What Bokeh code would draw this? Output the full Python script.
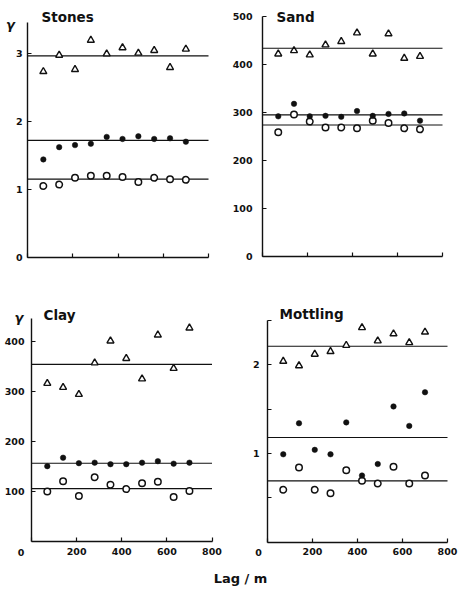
from bokeh.plotting import figure
from bokeh.layouts import column, row
from bokeh.models import (Label, FixedTicker, CustomJSTickFormatter,
                          ColumnDataSource, LinearAxis, Range1d)
from bokeh.embed import file_html
from bokeh.resources import INLINE

# ---------------- data ----------------
lags = [70, 140, 210, 280, 350, 420, 490, 560, 630, 700]
sill_x = [0, 800]

stones_tri = [2.73, 2.97, 2.76, 3.19, 2.99, 3.08, 3.00, 3.04, 2.79, 3.06]
stones_dot = [1.44, 1.62, 1.65, 1.67, 1.77, 1.74, 1.78, 1.74, 1.75, 1.70]
stones_open = [1.05, 1.07, 1.17, 1.20, 1.20, 1.18, 1.11, 1.17, 1.15, 1.14]
stones_sills = [2.96, 1.72, 1.15]

sand_tri = [422, 429, 420, 441, 448, 466, 422, 464, 413, 417]
sand_dot = [292, 318, 292, 293, 291, 303, 293, 297, 298, 283]
sand_open = [259, 296, 281, 269, 269, 267, 283, 278, 267, 265]
sand_sills = [434, 295, 274]

clay_tri = [317, 309, 295, 358, 402, 367, 326, 414, 347, 428]
clay_dot = [151, 168, 157, 158, 155, 155, 158, 161, 156, 158]
clay_open = [100, 121, 91, 129, 114, 105, 117, 120, 89, 101]
clay_sills = [355, 157, 106]

mott_tri = [2.04, 1.99, 2.12, 2.15, 2.22, 2.42, 2.27, 2.35, 2.25, 2.37]
mott_dot = [0.99, 1.34, 1.04, 0.99, 1.35, 0.75, 0.88, 1.53, 1.31, 1.69]
mott_open = [0.59, 0.84, 0.59, 0.55, 0.81, 0.69, 0.66, 0.85, 0.66, 0.75]
mott_sills = [2.21, 1.18, 0.69]

x_end = 800
x_ticks = [0, 200, 400, 600, 800]
stones_yticks = [0, 1, 2, 3]
sand_yticks = [0, 100, 200, 300, 400, 500]
clay_yticks = [100, 200, 300, 400]
mott_yticks = [0.5, 1, 1.5, 2, 2.5]

INK = "#111111"
FONT = "DejaVu Sans"
W, H = 229, 280


def make_panel(name, tri, dot, opn, sills, yend, yticks, box, title_xy,
               show_xlabels, y_standoff, gamma_xy=None, y_formatter=None,
               zero_xy=None):
    # box: pixel positions (in this canvas) of x=0, x=x_end, y=0, y=yend
    px0, px1, py0, py1 = box
    xs = x_end / (px1 - px0)
    ys = yend / (py0 - py1)
    xr = Range1d(-px0 * xs, x_end + (W - px1) * xs)
    yr = Range1d(-(H - py0) * ys, yend + py1 * ys)
    p = figure(width=W, height=H, x_range=xr, y_range=yr,
               x_axis_type=None, y_axis_type=None,
               output_backend="svg", toolbar_location=None, min_border=0)
    p.outline_line_color = None
    p.background_fill_color = "white"

    for s in sills:
        p.line(sill_x, [s, s], line_color=INK, line_width=1.1)

    src = ColumnDataSource(dict(x=lags, tri=tri, dot=dot, opn=opn))
    p.scatter("x", "tri", source=src, marker="triangle", size=7,
              fill_color="white", line_color=INK, line_width=1.4)
    p.scatter("x", "opn", source=src, marker="circle", size=6.5,
              fill_color="white", line_color=INK, line_width=1.5)
    p.scatter("x", "dot", source=src, marker="circle", size=5.5,
              fill_color=INK, line_color=INK, line_width=0.5)

    xaxis = LinearAxis(fixed_location=0, bounds=(0, x_end),
                       ticker=FixedTicker(ticks=x_ticks))
    yaxis = LinearAxis(fixed_location=0, bounds=(0, yend),
                       ticker=FixedTicker(ticks=yticks))
    for ax in (xaxis, yaxis):
        ax.axis_line_color = INK
        ax.axis_line_width = 1.4
        ax.major_tick_line_color = INK
        ax.major_tick_line_width = 1.2
        ax.major_tick_in = 4
        ax.major_tick_out = 0
        ax.minor_tick_line_color = None
        ax.major_label_text_font = FONT
        ax.major_label_text_font_style = "bold"
        ax.major_label_text_font_size = "9.5px"
        ax.major_label_text_color = INK

    if show_xlabels:
        xaxis.formatter = CustomJSTickFormatter(
            code="return tick == 0 ? '' : tick.toFixed(0);")
        xaxis.major_label_standoff = 6
    else:
        xaxis.formatter = CustomJSTickFormatter(code="return '';")
        xaxis.major_label_standoff = 0
    yaxis.major_label_standoff = y_standoff
    if y_formatter is not None:
        yaxis.formatter = y_formatter
    p.add_layout(xaxis, "below")
    p.add_layout(yaxis, "left")

    def lab(text, xy, size, align, style="bold"):
        x, y_top = xy
        p.add_layout(Label(x=x, y=H - y_top, x_units="screen",
                           y_units="screen", text=text, text_font=FONT,
                           text_font_style=style, text_font_size=size,
                           text_color=INK, text_align=align,
                           text_baseline="middle"))

    lab(name, title_xy, "13.5px", "left")
    if gamma_xy is not None:
        lab("γ", gamma_xy, "13px", "center", "bold italic")
    if zero_xy is not None:
        lab("0", zero_xy, "9.5px", "center")
    return p


p1 = make_panel("Stones", stones_tri, stones_dot, stones_open, stones_sills,
                3.45, stones_yticks, (27, 208, 257, 22), (41, 16.5),
                False, 5, gamma_xy=(10, 23.5))

p2 = make_panel("Sand", sand_tri, sand_dot, sand_open, sand_sills,
                500, sand_yticks, (33, 213, 256, 16), (47, 16),
                False, 10)

p3 = make_panel("Clay", clay_tri, clay_dot, clay_open, clay_sills,
                447, clay_yticks, (31, 211.5, 261, 38), (43, 34.5),
                True, 7, gamma_xy=(18.5, 37), zero_xy=(20.5, 271.5))

p4 = make_panel("Mottling", mott_tri, mott_dot, mott_open, mott_sills,
                2.5, mott_yticks, (38, 218, 261.5, 40), (50, 33.5),
                True, 8,
                y_formatter=CustomJSTickFormatter(
                    code="return (tick % 1 === 0) ? tick.toFixed(0) : '';"),
                zero_xy=(29, 271.5))

# bottom strip with the shared x-axis label
p5 = figure(width=458, height=30, x_range=(0, 458), y_range=(0, 30),
            x_axis_type=None, y_axis_type=None,
            output_backend="svg", toolbar_location=None, min_border=0)
p5.outline_line_color = None
p5.add_layout(Label(x=240, y=12, x_units="screen", y_units="screen",
                    text="Lag / m", text_font=FONT,
                    text_font_style="bold", text_font_size="13px",
                    text_color=INK, text_align="center",
                    text_baseline="middle"))

layout = column(row(p1, p2), row(p3, p4), p5)

open("out.html", "w").write(file_html(layout, INLINE))
